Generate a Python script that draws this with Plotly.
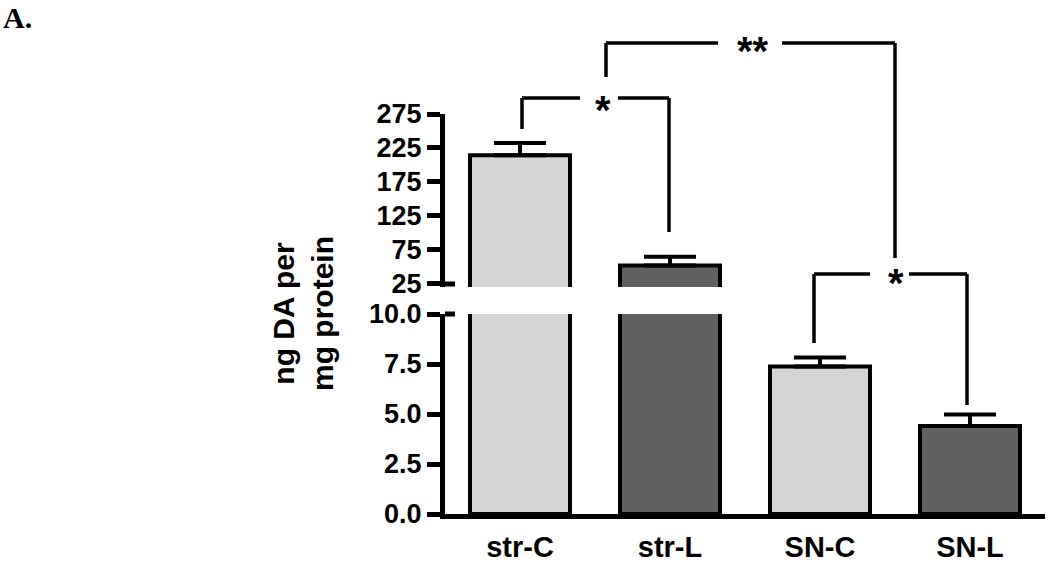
import plotly.graph_objects as go

# ---- data ----
categories = ["str-C", "str-L", "SN-C", "SN-L"]
means = [214, 51, 7.37, 4.40]
sems = [18, 13, 0.45, 0.58]
bar_colors = ["#d4d4d4", "#606060", "#d4d4d4", "#606060"]
lower_ticks = [0, 2.5, 5.0, 7.5, 10.0]
upper_ticks = [25, 75, 125, 175, 225, 275]
ytitle = "ng DA per<br>mg protein"
panel_label = "A."

# ---- layout geometry (pixels) ----
W, H = 1050, 562
ML, MR, MT, MB = 445, 5, 40, 48
PLOT_H = H - MT - MB
BOTTOM = H - MB


def pyp(py):
    """pixel y -> paper y"""
    return (BOTTOM - py) / PLOT_H


def pxx(px):
    """pixel x -> category x"""
    return (px - (ML + 75)) / 150.0


lower_dom = [0, pyp(314)]
upper_dom = [pyp(287), pyp(114)]

FONT = "Liberation Sans, Arial, sans-serif"

fig = go.Figure()
for yax in ["y", "y2"]:
    fig.add_trace(go.Bar(
        x=list(range(len(categories))), y=means, yaxis=yax,
        marker=dict(color=bar_colors, line=dict(color="black", width=4)),
        error_y=dict(type="data", array=sems, arrayminus=[0] * len(sems),
                     symmetric=False, color="black", thickness=4, width=26),
        showlegend=False, hoverinfo="skip",
    ))

axis_common = dict(showline=True, linecolor="black", linewidth=5,
                   ticks="outside", ticklen=13, tickwidth=5, tickcolor="black",
                   showgrid=False, zeroline=False, automargin=False,
                   tickfont=dict(family=FONT, size=27, color="black", weight="bold"))

fig.update_layout(
    width=W, height=H, autosize=False,
    margin=dict(l=ML, r=MR, t=MT, b=MB, autoexpand=False),
    plot_bgcolor="white", paper_bgcolor="white",
    bargap=1 / 3,
    xaxis=dict(range=[-0.5, 3.5], tickvals=list(range(len(categories))),
               ticktext=categories, showline=True, linecolor="black", linewidth=5,
               ticks="outside", ticklen=3, tickcolor="rgba(0,0,0,0)",
               showgrid=False, zeroline=False, anchor="y", automargin=False,
               tickfont=dict(family=FONT, size=29, color="black", weight="bold")),
    yaxis=dict(domain=lower_dom, range=[0, 10], tickvals=lower_ticks,
               tickformat=".1f", **axis_common),
    yaxis2=dict(domain=upper_dom, range=[19.4, 275], tickvals=upper_ticks,
                anchor="x", **axis_common),
)

shapes = []
# break caps
for py in (284, 314):
    shapes.append(dict(type="line", xref="paper", yref="paper", x0=0, x1=10 / 600,
                       y0=pyp(py), y1=pyp(py), line=dict(color="black", width=5)))

# significance brackets: (left_x, left_bottom, right_x, right_bottom, top, gap_left, gap_right)
brackets = [
    (522, 129, 669, 232, 98, 580, 618),
    (606, 77, 895, 258, 43, 718, 782),
    (814, 343, 967, 405, 274, 870, 909),
]
for lx, lb, rx, rb, top, g0, g1 in brackets:
    segs = [((lx, lb), (lx, top)), ((lx, top), (g0, top)),
            ((g1, top), (rx, top)), ((rx, top), (rx, rb))]
    for (ax0, ay0), (ax1, ay1) in segs:
        shapes.append(dict(type="line", xref="x", yref="paper",
                           x0=pxx(ax0), x1=pxx(ax1), y0=pyp(ay0), y1=pyp(ay1),
                           line=dict(color="black", width=3.5)))
fig.update_layout(shapes=shapes)

annotations = []
stars = [("*", 603, 100), ("**", 753, 41), ("*", 896, 273)]
for txt, sx, sy in stars:
    annotations.append(dict(text=txt, xref="x", yref="paper", x=pxx(sx), y=pyp(sy + 10),
                            xanchor="center", yanchor="middle", showarrow=False,
                            font=dict(family=FONT, size=40, color="black", weight="bold")))
annotations.append(dict(text=ytitle, xref="paper", yref="paper",
                        x=(303 - ML) / 600, y=pyp(314), textangle=-90,
                        xanchor="center", yanchor="middle", showarrow=False,
                        font=dict(family=FONT, size=30, color="black", weight="bold")))
annotations.append(dict(text=panel_label, xref="paper", yref="paper",
                        x=(2 - ML) / 600, y=pyp(0), xanchor="left", yanchor="top",
                        showarrow=False, borderpad=0,
                        font=dict(family="Liberation Serif, Times New Roman, serif",
                                  size=30, color="black", weight="bold")))
fig.update_layout(annotations=annotations)

fig.write_html("out.html", config={"displayModeBar": False},
               post_script="document.body.style.margin='0';")
